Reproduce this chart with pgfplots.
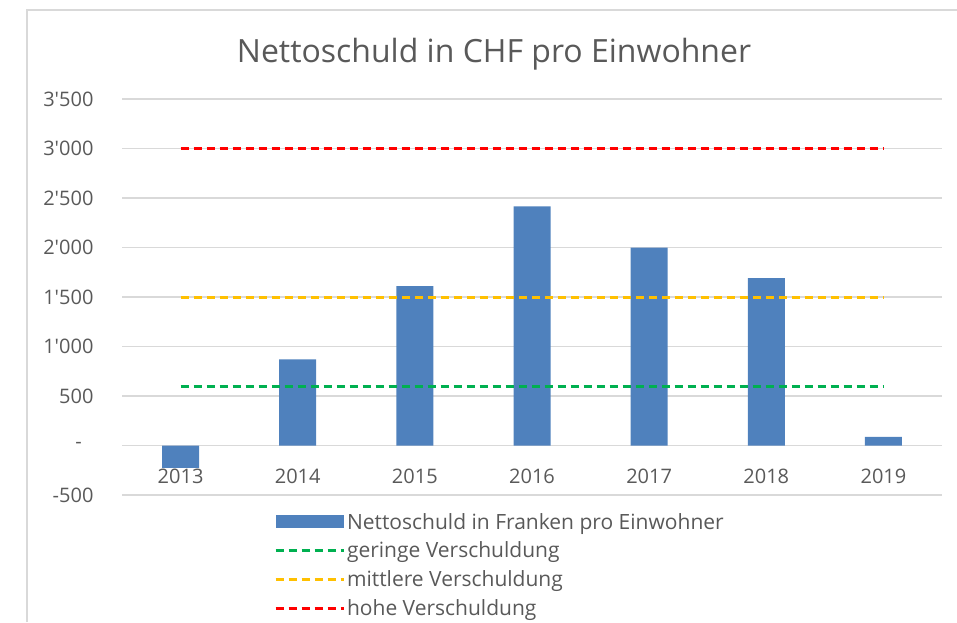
\documentclass[border=0pt]{standalone}
\usepackage{pgfplots}
\pgfplotsset{compat=1.18}
\usepackage{fontspec}
\setmainfont{Open Sans}[Ligatures=TeXOff]
\definecolor{txt}{HTML}{595959}
\definecolor{gridc}{HTML}{D9D9D9}
\definecolor{barc}{HTML}{4F81BD}
\definecolor{greenc}{HTML}{00B050}
\definecolor{orangec}{HTML}{FFC000}
\definecolor{redc}{HTML}{FF0000}
\newcommand{\ap}{\symbol{39}}
\begin{document}
\begin{tikzpicture}[x=1pt,y=1pt]
\useasboundingbox (0,0) rectangle (957,622);
\draw[gridc, line width=1.2pt] (27,0) -- (27,612) -- (957,612);
\node[txt, font=\fontsize{32}{38}\selectfont] at (494,568) {Nettoschuld in CHF pro Einwohner};
\begin{axis}[
  at={(122pt,127pt)}, anchor=south west,
  scale only axis, width=820pt, height=396pt,
  xmin=-0.5, xmax=6.5, ymin=-500, ymax=3500,
  axis line style={draw=none},
  major tick length=0pt,
  ymajorgrids, grid style={gridc, line width=1.3pt},
  ytick={-500,0,500,1000,1500,2000,2500,3000,3500},
  yticklabels={-500,{},500,1\ap000,1\ap500,2\ap000,2\ap500,3\ap000,3\ap500},
  xtick={0,1,2,3,4,5,6},
  xticklabels={2013,2014,2015,2016,2017,2018,2019},
  ticklabel style={font=\fontsize{20}{24}\selectfont, text=txt},
  yticklabel style={anchor=east, xshift=-25pt},
  xticklabel style={anchor=center, yshift=19pt},
  legend cell align=left,
  legend style={draw=none, fill=none, at={(0.1815,-0.035)}, anchor=north west,
    font=\fontsize{21}{25}\selectfont, text=txt, row sep=7.5pt,
    /tikz/every odd column/.append style={column sep=0pt}},
  clip=false,
]
\addplot[ybar, bar width=37pt, bar shift=0pt, fill=barc, draw=none,
  legend image code/.code={\fill[barc] (-3pt,-6.5pt) rectangle (65pt,6.5pt);}]
  coordinates {(0,-225) (1,870) (2,1610) (3,2415) (4,2000) (5,1690) (6,88)};
\addlegendentry{Nettoschuld in Franken pro Einwohner}
\addplot[sharp plot, greenc, line width=3pt, dash pattern=on 8pt off 5pt,
  legend image code/.code={\draw[greenc, line width=3pt, dash pattern=on 8pt off 5pt] (-3pt,0pt) -- (65pt,0pt);}]
  coordinates {(0,600) (6,600)};
\addlegendentry{geringe Verschuldung}
\addplot[sharp plot, orangec, line width=3pt, dash pattern=on 8pt off 5pt,
  legend image code/.code={\draw[orangec, line width=3pt, dash pattern=on 8pt off 5pt] (-3pt,0pt) -- (65pt,0pt);}]
  coordinates {(0,1500) (6,1500)};
\addlegendentry{mittlere Verschuldung}
\addplot[sharp plot, redc, line width=3pt, dash pattern=on 8pt off 5pt,
  legend image code/.code={\draw[redc, line width=3pt, dash pattern=on 8pt off 5pt] (-3pt,0pt) -- (65pt,0pt);}]
  coordinates {(0,3000) (6,3000)};
\addlegendentry{hohe Verschuldung}
\node[text=txt, font=\fontsize{20}{24}\selectfont, anchor=center, xshift=-43.5pt] at (axis cs:-0.5,0) {-};
\end{axis}
\end{tikzpicture}
\end{document}
